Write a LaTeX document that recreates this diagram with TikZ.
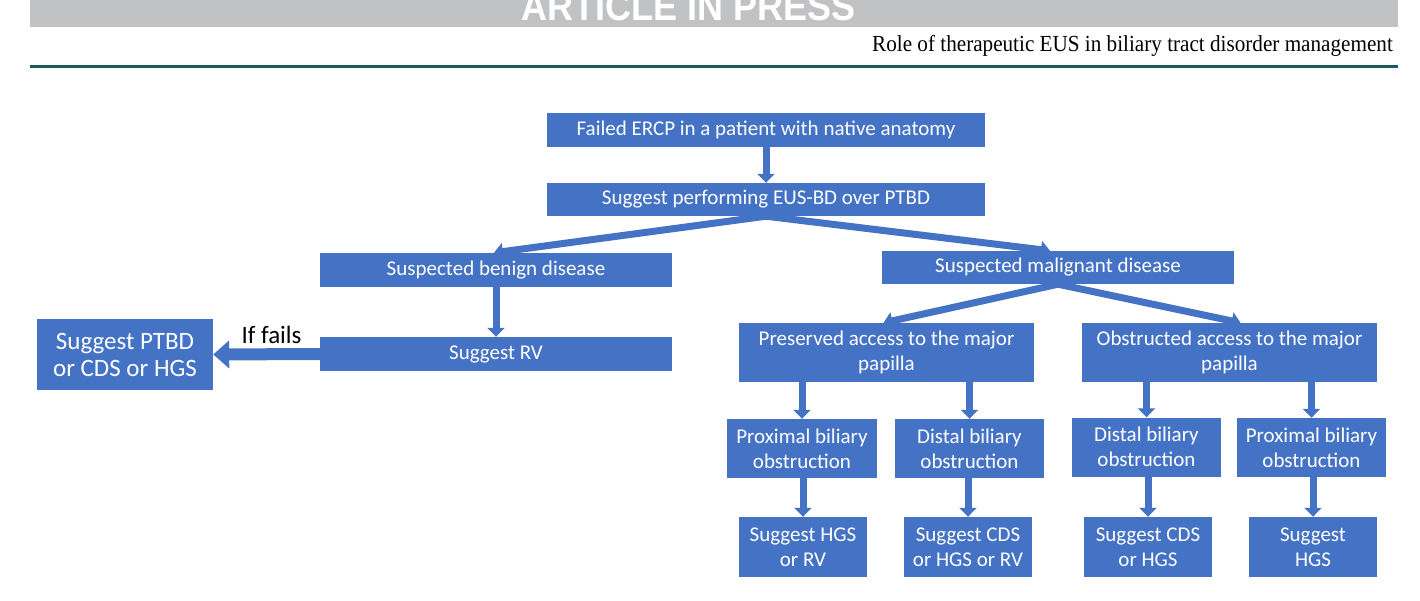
\documentclass[tikz,border=0pt]{standalone}
\usepackage{fontspec}
\setmainfont{Carlito}
\newfontfamily\hdrfont{Liberation Sans}
\newfontfamily\subfont{Liberation Serif}
\usetikzlibrary{arrows.meta,calc}
\definecolor{boxblue}{RGB}{68,114,196}
\definecolor{hdrgray}{RGB}{193,194,196}
\definecolor{tealline}{RGB}{28,90,92}
\begin{document}
\begin{tikzpicture}[x=1pt,y=-1pt,
  bx/.style={fill=boxblue, text=white, inner sep=0pt, align=center,
             font=\fontsize{21}{25}\selectfont},
  wide/.style={bx, minimum width=#1, minimum height=34pt},
  twoline/.style={bx, minimum width=#1, minimum height=59pt},
  arr/.style={draw=boxblue, line width=7pt, -{Triangle[width=17pt,length=9pt]}},
  bigarr/.style={draw=boxblue, line width=12pt, -{Triangle[width=27pt,length=16pt]}}]
\useasboundingbox (0,0) rectangle (1420,601);
\fill[white] (0,0) rectangle (1420,601);
% header
\fill[hdrgray] (30,0) rectangle (1398,27);
\node[anchor=base, text=white, inner sep=0pt, font=\hdrfont\bfseries\fontsize{40}{40}\selectfont] (hdr) at (689,21) {\scalebox{0.9}[1]{ARTICLE IN PRESS}};
\node[anchor=base east, inner sep=0pt, font=\subfont\fontsize{23}{23}\selectfont] (sub) at (1393,52) {\scalebox{0.92}[1]{Role of therapeutic EUS in biliary tract disorder management}};
\fill[tealline] (30,65) rectangle (1398,68.5);
% boxes
\node[wide=438pt] (top) at (766,130) {Failed ERCP in a patient with native anatomy};
\node[wide=438pt, minimum height=33pt] (box2) at (766,199.5) {Suggest performing EUS-BD over PTBD};
\node[wide=352pt] (benign) at (496,270) {Suspected benign disease};
\node[wide=352pt, minimum height=33pt] (malig) at (1058,267.5) {Suspected malignant disease};
\node[wide=352pt] (rv) at (496,354) {Suggest RV};
\node[bx, font=\fontsize{25}{27}\selectfont, minimum width=176pt, minimum height=71pt] (ptbd) at (125,354.5) {Suggest PTBD\\or CDS or HGS};
\node[anchor=base, inner sep=0pt, font=\fontsize{25}{25}\selectfont] (iff) at (271.5,343) {If fails};
\node[twoline=295pt] (pres) at (886.5,352.5) {Preserved access to the major\\papilla};
\node[twoline=295pt] (obs) at (1229.5,352.5) {Obstructed access to the major\\papilla};
\node[twoline=150pt] (proxL) at (802,448.5) {Proximal biliary\\obstruction};
\node[twoline=149pt] (distL) at (969.5,448.5) {Distal biliary\\obstruction};
\node[twoline=149pt] (distR) at (1146.5,447) {Distal biliary\\obstruction};
\node[twoline=149pt] (proxR) at (1311.5,447.5) {Proximal biliary\\obstruction};
\node[twoline=128pt, minimum height=60pt] (s1) at (803,547) {Suggest HGS\\or RV};
\node[twoline=128pt, minimum height=60pt] (s2) at (968,547) {Suggest CDS\\or HGS or RV};
\node[twoline=128pt, minimum height=60pt] (s3) at (1148,547) {Suggest CDS\\or HGS};
\node[twoline=128pt, minimum height=60pt] (s4) at (1313,547) {Suggest\\HGS};
% connectors
\draw[arr] (top.south) -- (box2.north);
\draw[arr] (box2.south) -- ($(benign.north)+(-2,0)$);
\draw[arr] (box2.south) -- ($(malig.north)+(-8,0)$);
\draw[arr] (benign.south) -- (rv.north);
\draw[bigarr] (rv.west) -- (ptbd.east);
\draw[arr] (malig.south) -- ($(pres.north)+(-3,0)$);
\draw[arr] (malig.south) -- ($(obs.north)+(11,0)$);
\draw[arr] (pres.south -| proxL.north) -- (proxL.north);
\draw[arr] (pres.south -| distL.north) -- (distL.north);
\draw[arr] (obs.south -| distR.north) -- (distR.north);
\draw[arr] (obs.south -| proxR.north) -- (proxR.north);
\draw[arr] (proxL.south -| s1.north) -- (s1.north);
\draw[arr] (distL.south -| s2.north) -- (s2.north);
\draw[arr] (distR.south -| s3.north) -- (s3.north);
\draw[arr] (proxR.south -| s4.north) -- (s4.north);
\end{tikzpicture}
\end{document}
